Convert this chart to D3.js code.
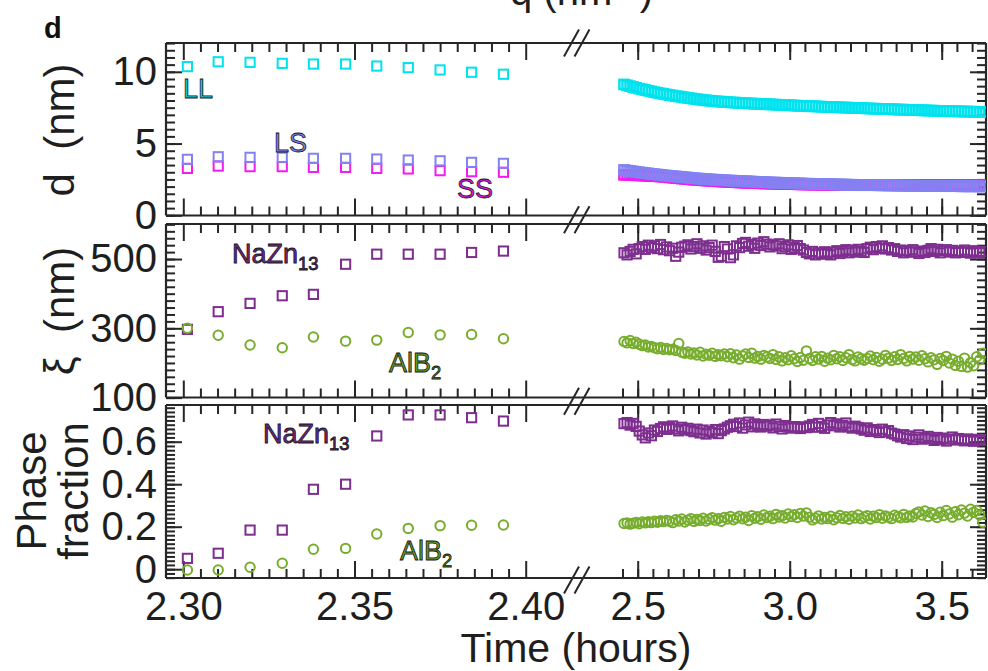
<!DOCTYPE html>
<html><head><meta charset="utf-8">
<script src="https://cdn.jsdelivr.net/npm/d3@7"></script>
<style>body{margin:0;background:#fff}svg{display:block}text{font-family:"Liberation Sans",Arial,sans-serif}</style>
</head><body><svg id="c" width="988" height="671"></svg>
<script>
// ---------- DATA ----------
const tLeft = [2.3012,2.3102,2.3195,2.3289,2.3380,2.3474,2.3565,2.3657,2.3750,2.3842,2.3935];
const dLL_L = [10.36,10.70,10.66,10.59,10.54,10.54,10.40,10.29,10.13,9.97,9.83];
const dLS_L = [3.90,4.08,4.04,4.04,3.97,3.97,3.92,3.85,3.80,3.69,3.62];
const dSS_L = [3.27,3.43,3.39,3.39,3.34,3.34,3.27,3.23,3.11,3.04,3.00];
const xiNa_L = [297,348,372,394,398,485,514,514,514,519,523];
const xiAl_L = [300,280,252,244,275,263,266,288,281,282,270];
const phNa_L = [0.051,0.075,0.184,0.184,0.376,0.400,0.627,0.726,0.726,0.713,0.697];
const phAl_L = [-0.004,-0.004,0.009,0.028,0.094,0.098,0.166,0.192,0.205,0.207,0.208];

const tRight = [2.455,2.465,2.475,2.485,2.495,2.505,2.515,2.525,2.535,2.545,
2.555,2.565,2.575,2.585,2.595,2.605,2.615,2.625,2.635,2.645,
2.655,2.665,2.675,2.685,2.695,2.705,2.715,2.725,2.735,2.745,
2.755,2.765,2.775,2.785,2.795,2.805,2.815,2.825,2.835,2.845,
2.855,2.865,2.875,2.885,2.895,2.905,2.915,2.925,2.935,2.945,
2.955,2.965,2.975,2.985,2.995,3.005,3.015,3.025,3.035,3.045,
3.055,3.065,3.075,3.085,3.095,3.105,3.115,3.125,3.135,3.145,
3.155,3.165,3.175,3.185,3.195,3.205,3.215,3.225,3.235,3.245,
3.255,3.265,3.275,3.285,3.295,3.305,3.315,3.325,3.335,3.345,
3.355,3.365,3.375,3.385,3.395,3.405,3.415,3.425,3.435,3.445,
3.455,3.465,3.475,3.485,3.495,3.505,3.515,3.525,3.535,3.545,
3.555,3.565,3.575,3.585,3.595,3.605,3.615,3.625,3.635];

const dLL_R = [9.12,9.06,9.00,8.94,8.88,8.83,8.78,8.73,8.68,8.63,
8.58,8.54,8.50,8.46,8.42,8.38,8.35,8.31,8.28,8.25,
8.21,8.18,8.15,8.12,8.09,8.06,8.04,8.01,7.99,7.97,
7.95,7.93,7.92,7.90,7.89,7.87,7.86,7.85,7.83,7.82,
7.81,7.80,7.79,7.78,7.77,7.76,7.75,7.74,7.73,7.72,
7.71,7.70,7.69,7.68,7.67,7.66,7.65,7.64,7.63,7.62,
7.61,7.60,7.60,7.59,7.58,7.57,7.56,7.55,7.55,7.54,
7.53,7.52,7.51,7.51,7.50,7.49,7.48,7.47,7.47,7.46,
7.45,7.44,7.43,7.43,7.42,7.41,7.40,7.40,7.39,7.38,
7.37,7.37,7.36,7.35,7.34,7.34,7.33,7.32,7.32,7.31,
7.30,7.30,7.29,7.28,7.28,7.27,7.27,7.26,7.25,7.25,
7.24,7.24,7.23,7.23,7.22,7.22,7.21,7.21,7.20];

const dLS_R = [3.16,3.12,3.09,3.06,3.03,3.00,2.97,2.94,2.92,2.89,
2.87,2.84,2.82,2.79,2.77,2.75,2.73,2.71,2.69,2.67,
2.65,2.63,2.61,2.59,2.57,2.55,2.54,2.52,2.51,2.49,
2.48,2.47,2.45,2.44,2.43,2.42,2.41,2.40,2.39,2.38,
2.37,2.36,2.35,2.34,2.33,2.32,2.31,2.30,2.29,2.28,
2.28,2.27,2.26,2.25,2.24,2.24,2.23,2.22,2.22,2.21,
2.20,2.20,2.19,2.19,2.18,2.18,2.17,2.17,2.16,2.16,
2.15,2.15,2.14,2.14,2.13,2.13,2.12,2.12,2.12,2.11,
2.11,2.10,2.10,2.10,2.09,2.09,2.09,2.08,2.08,2.08,
2.07,2.07,2.07,2.06,2.06,2.06,2.06,2.05,2.05,2.05,
2.05,2.04,2.04,2.04,2.04,2.04,2.03,2.03,2.03,2.03,
2.03,2.02,2.02,2.02,2.02,2.02,2.02,2.01,2.01];

const dSS_R = [2.82,2.82,2.81,2.80,2.79,2.78,2.77,2.76,2.75,2.74,
2.73,2.72,2.70,2.68,2.66,2.64,2.62,2.60,2.58,2.56,
2.54,2.52,2.50,2.48,2.47,2.45,2.44,2.42,2.41,2.39,
2.38,2.37,2.35,2.34,2.33,2.32,2.31,2.30,2.29,2.28,
2.27,2.26,2.25,2.25,2.24,2.23,2.22,2.22,2.21,2.20,
2.20,2.19,2.19,2.18,2.18,2.17,2.17,2.16,2.16,2.15,
2.15,2.15,2.14,2.14,2.14,2.13,2.13,2.13,2.12,2.12,
2.12,2.12,2.11,2.11,2.11,2.11,2.11,2.10,2.10,2.10,
2.10,2.10,2.10,2.10,2.10,2.10,2.10,2.10,2.10,2.10,
2.10,2.10,2.10,2.10,2.10,2.10,2.10,2.10,2.10,2.10,
2.10,2.10,2.10,2.10,2.10,2.10,2.10,2.10,2.10,2.10,
2.10,2.10,2.10,2.10,2.10,2.10,2.10,2.10,2.10];

const xiNa_R = [518,512,522,528,515,530,536,528,540,533,
538,530,542,527,535,524,531,508,520,534,
537,541,529,536,544,531,538,526,533,540,
522,505,508,536,529,504,512,538,533,545,
548,537,542,531,546,539,550,543,535,541,
538,544,530,536,541,528,533,539,530,526,
519,515,522,512,518,514,521,516,512,520,
524,516,522,527,518,525,520,528,523,519,
530,534,527,536,531,538,529,533,526,530,
522,526,518,524,520,527,521,516,523,519,
525,530,522,528,518,524,527,520,525,518,
523,519,526,521,517,524,520,518,522];

const xiAl_R = [262,258,265,256,260,254,
250,252,246,248,244,241,245,239,242,238,240,
236,256,231,228,
232,226,229,223,231,220,225,222,228,219,224,221,226,
218,227,215,223,211,220,226,216,228,214,219,211,222,217,
213,224,210,218,206,215,209,221,212,204,216,208,235,213,207,218,
211,219,205,214,209,222,212,218,207,215,224,210,206,217,212,208,
213,220,209,216,205,211,222,214,207,218,210,224,213,206,219,211,
217,208,221,212,203,215,209,196,213,207,219,200,211,193,205,190,214,
188,201,192,218,209,228];

const phNa_R = [0.685,0.690,0.678,0.686,0.672,
0.650,0.632,0.618,0.641,0.628,
0.655,0.648,0.662,0.670,0.658,0.666,0.674,0.660,0.651,0.668,0.657,0.663,
0.652,0.647,0.659,0.641,0.655,0.636,0.649,0.643,0.657,0.638,0.652,0.660,
0.668,0.675,0.682,0.671,0.688,0.664,0.679,0.692,0.670,0.684,0.676,0.669,0.681,0.673,
0.678,0.665,0.683,0.672,0.660,0.676,0.669,0.664,0.671,0.667,0.662,0.670,0.666,
0.674,0.681,0.668,0.686,0.672,0.663,0.679,0.690,0.675,0.684,0.669,0.677,0.688,0.670,0.664,0.673,0.667,
0.660,0.654,0.665,0.648,0.657,0.651,0.643,0.659,0.646,0.652,0.640,
0.636,0.628,0.622,0.633,0.615,0.627,0.610,0.621,0.632,0.612,0.619,0.625,
0.614,0.606,0.620,0.611,0.617,0.603,0.612,0.622,0.608,0.615,0.610,0.604,0.613,0.607,0.602,0.611,0.606,0.609];

const phAl_R = [0.215,0.218,0.212,0.216,0.220,0.214,0.222,0.218,0.224,0.219,0.226,
0.221,0.228,0.224,0.230,0.226,0.219,0.233,0.227,0.236,0.222,0.231,0.238,0.225,0.234,0.229,
0.240,0.227,0.235,0.242,0.231,0.238,0.226,0.244,0.236,0.248,0.233,0.241,0.250,0.237,0.245,0.229,0.252,0.240,0.247,0.235,
0.255,0.243,0.249,0.238,0.258,0.246,0.252,0.241,0.260,0.248,0.256,0.243,0.262,0.250,0.265,
0.245,0.232,0.240,0.251,0.236,0.244,0.238,0.249,0.233,0.242,0.253,0.239,0.247,0.235,0.250,
0.241,0.255,0.238,0.246,0.252,0.236,0.249,0.243,0.257,0.240,0.251,0.245,0.238,0.254,0.247,0.242,0.258,0.244,0.251,0.246,
0.262,0.270,0.255,0.274,0.248,0.266,0.258,0.243,0.268,0.252,0.276,0.260,0.245,0.271,0.256,0.279,0.264,0.250,0.282,0.268,0.276,0.255,0.221];

const xTicksLeft = [2.30,2.35,2.40];
const xTicksRight = [2.5,3.0,3.5];
const dTicks = [0,5,10];
const xiTicks = [100,300,500];
const phTicks = [0,0.2,0.4,0.6];

// ---------- COLORS ----------
const C = {LL:"#00e2ee", LS:"#8282f2", SS:"#f01cf0", Na:"#7d2e8f", Al:"#77ad2e"};
const INK = "#262626";

// ---------- LAYOUT ----------
const svg = d3.select("#c");
const X0 = 166, X1 = 986;
const xL = d3.scaleLinear().domain([2.30,2.40]).range([183.3,525.7]);
const xR = d3.scaleLinear().domain([2.5,3.5]).range([637.7,941.7]);

const panels = [
  {top:43, bot:215.5, y:d3.scaleLinear().domain([0,12]).range([215.3,43.1]),
   major:dTicks, minor:d3.range(0,12.01,0.5), fmt:d3.format("d")},
  {top:224, bot:397.5, y:d3.scaleLinear().domain([100,600]).range([397.6,224.4]),
   major:xiTicks, minor:d3.range(100,600.1,20), fmt:d3.format("d")},
  {top:405, bot:578, y:d3.scaleLinear().domain([0,0.6]).range([569.2,441.7]),
   major:phTicks, minor:d3.range(-0.04,0.77,0.02), fmt:(v)=> v===0?"0":d3.format(".1f")(v)}
];

const defs = svg.append("defs");
panels.forEach((p,i)=>{
  defs.append("clipPath").attr("id","clip"+i).append("rect")
    .attr("x",X0).attr("y",p.top).attr("width",X1-X0).attr("height",p.bot-p.top);
});

function styleAxis(g, fs){
  g.select(".domain").remove();
  g.selectAll(".tick line").attr("stroke",INK).attr("stroke-width",2);
  g.selectAll(".tick text").attr("fill","#1e1e1e").attr("font-size",fs)
    .attr("font-family","'Liberation Sans', Arial, sans-serif");
  g.attr("font-size",null).attr("font-family",null);
}

panels.forEach((p,i)=>{
  const last = i===2;
  [[xL,xTicksLeft,d3.range(2.305,2.3951,0.005),d3.format(".2f")],
   [xR,xTicksRight,d3.range(2.45,3.601,0.05),d3.format(".1f")]].forEach(([sc,maj,mino,f])=>{
    svg.append("g").attr("transform",`translate(0,${p.bot})`)
      .call(d3.axisBottom(sc).tickValues(mino).tickSize(-9).tickFormat(""))
      .call(g=>styleAxis(g,40));
    svg.append("g").attr("transform",`translate(0,${p.bot})`)
      .call(d3.axisBottom(sc).tickValues(maj).tickSize(-17).tickPadding(14).tickFormat(last?f:""))
      .call(g=>styleAxis(g,40));
    svg.append("g").attr("transform",`translate(0,${p.top})`)
      .call(d3.axisTop(sc).tickValues(mino).tickSize(-9).tickFormat(""))
      .call(g=>styleAxis(g,40));
    svg.append("g").attr("transform",`translate(0,${p.top})`)
      .call(d3.axisTop(sc).tickValues(maj).tickSize(-17).tickFormat(""))
      .call(g=>styleAxis(g,40));
  });
  const minors = p.minor.filter(v=>{const yy=p.y(v);return yy>=p.top-0.5&&yy<=p.bot+0.5;});
  svg.append("g").attr("transform",`translate(${X0},0)`)
    .call(d3.axisLeft(p.y).tickValues(minors).tickSize(-9).tickFormat(""))
    .call(g=>styleAxis(g,40));
  svg.append("g").attr("transform",`translate(${X0},0)`)
    .call(d3.axisLeft(p.y).tickValues(p.major).tickSize(-16).tickPadding(9).tickFormat(p.fmt))
    .call(g=>styleAxis(g,40));
  svg.append("g").attr("transform",`translate(${X1},0)`)
    .call(d3.axisRight(p.y).tickValues(minors).tickSize(-9).tickFormat(""))
    .call(g=>styleAxis(g,40));
  svg.append("g").attr("transform",`translate(${X1},0)`)
    .call(d3.axisRight(p.y).tickValues(p.major).tickSize(-16).tickFormat(""))
    .call(g=>styleAxis(g,40));
  const fr = svg.append("g").attr("stroke",INK).attr("stroke-width",2.2).attr("fill","none");
  fr.append("line").attr("x1",X0).attr("x2",X1).attr("y1",p.top).attr("y2",p.top);
  fr.append("line").attr("x1",X0).attr("x2",X1).attr("y1",p.bot).attr("y2",p.bot);
  fr.append("line").attr("x1",X0).attr("x2",X0).attr("y1",p.top).attr("y2",p.bot);
  fr.append("line").attr("x1",X1).attr("x2",X1).attr("y1",p.top).attr("y2",p.bot);
});

// ---------- MARKS ----------
const S = 9.2, R = 4.7;
function squares(i, ts, vs, sc, col, sw){
  const p = panels[i];
  svg.append("g").attr("clip-path",`url(#clip${i})`).selectAll("rect").data(ts.map((t,k)=>[t,vs[k]]))
    .join("rect").attr("x",d=>sc(d[0])-S/2).attr("y",d=>p.y(d[1])-S/2)
    .attr("width",S).attr("height",S).attr("fill","none").attr("stroke",col).attr("stroke-width",sw||2);
}
function circles(i, ts, vs, sc, col){
  const p = panels[i];
  svg.append("g").attr("clip-path",`url(#clip${i})`).selectAll("circle").data(ts.map((t,k)=>[t,vs[k]]))
    .join("circle").attr("cx",d=>sc(d[0])).attr("cy",d=>p.y(d[1])).attr("r",R)
    .attr("fill","none").attr("stroke",col).attr("stroke-width",2);
}
squares(0,tLeft,dLL_L,xL,C.LL);
squares(0,tLeft,dSS_L,xL,C.SS);
squares(0,tLeft,dLS_L,xL,C.LS);
squares(0,tRight,dLL_R,xR,C.LL,2.5);
squares(0,tRight,dSS_R,xR,C.SS,2.5);
squares(0,tRight,dLS_R,xR,C.LS,2.5);

squares(1,tLeft,xiNa_L,xL,C.Na);
circles(1,tLeft,xiAl_L,xL,C.Al);
squares(1,tRight,xiNa_R,xR,C.Na);
circles(1,tRight,xiAl_R,xR,C.Al);

squares(2,tLeft,phNa_L,xL,C.Na);
circles(2,tLeft,phAl_L,xL,C.Al);
squares(2,tRight,phNa_R,xR,C.Na);
circles(2,tRight,phAl_R,xR,C.Al);

// ---------- AXIS BREAKS ----------
const brk = svg.append("g").attr("stroke",INK).attr("stroke-width",2);
[43,219.7,401.2,580].forEach(cy=>{
  [571.5,582].forEach(cx=>{
    brk.append("line").attr("x1",cx-7.5).attr("y1",cy+13.5).attr("x2",cx+7.5).attr("y2",cy-13.5);
  });
});

// ---------- TEXT ----------
function outlined(x,y,txt,col,fs,sub){
  const t = svg.append("text").attr("x",x).attr("y",y).attr("font-size",fs)
    .attr("fill",col).attr("stroke","#141414").attr("stroke-width",0.8);
  t.append("tspan").text(txt);
  if(sub) t.append("tspan").attr("font-size",fs*0.68).attr("dy",fs*0.25).text(sub);
}
outlined(183,98,"LL","#14c8dc",27);
outlined(274,152,"LS","#8080ee",27);
outlined(457,198,"SS","#e01ae0",27);
outlined(232,263,"NaZn","#74268a",27,"13");
outlined(389,372,"AlB","#659a26",27,"2");
outlined(263,443,"NaZn","#74268a",27,"13");
outlined(400,560,"AlB","#659a26",27,"2");

svg.append("text").attr("x",44).attr("y",38).attr("font-size",29).attr("font-weight","bold")
  .attr("fill","#111").text("d");

const topT = svg.append("text").attr("x",510).attr("y",5).attr("font-size",40).attr("fill","#1e1e1e");
topT.append("tspan").text("q (nm");
topT.append("tspan").attr("font-size",24).attr("dy",-16).text("−1");
topT.append("tspan").attr("dy",16).text(")");

svg.append("text").attr("x",576).attr("y",662).attr("text-anchor","middle").attr("font-size",41)
  .attr("fill","#1e1e1e").text("Time (hours)");

function vlabel(x,y,txt){
  svg.append("text").attr("transform",`translate(${x},${y}) rotate(-90)`).attr("text-anchor","middle")
    .attr("font-size",42).attr("fill","#1e1e1e").style("white-space","pre").text(txt);
}
vlabel(74,130,"d  (nm)");
vlabel(74,311,"ξ  (nm)");
vlabel(46,491,"Phase");
vlabel(88,491,"fraction");
</script></body></html>
